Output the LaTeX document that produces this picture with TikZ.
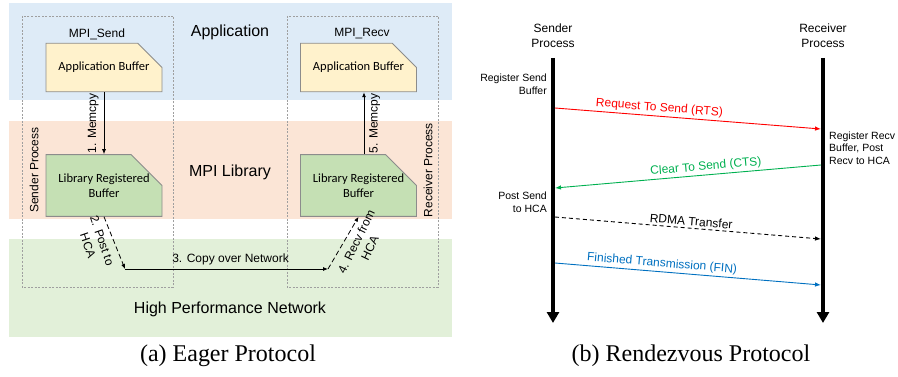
\documentclass[tikz,border=0pt]{standalone}
\usepackage{fontspec}
\setmainfont{Liberation Sans}
\newfontfamily\buffont{Carlito}
\newfontfamily\capfont{Liberation Serif}
\usetikzlibrary{arrows.meta,shapes.misc}
\definecolor{appband}{HTML}{DEEBF7}
\definecolor{libband}{HTML}{FBE5D6}
\definecolor{netband}{HTML}{E2F0D9}
\definecolor{appfill}{HTML}{FFF2CC}
\definecolor{libfill}{HTML}{C5E0B4}
\definecolor{bufline}{HTML}{8C8C8C}
\definecolor{rtscol}{HTML}{FF0000}
\definecolor{ctscol}{HTML}{00B050}
\definecolor{fincol}{HTML}{0070C0}
\tikzset{
  layer/.style={font=\fontsize{16}{19}\selectfont},
  small/.style={font=\fontsize{12}{15}\selectfont},
  procbox/.style={draw=gray!75, dash pattern=on 2pt off 1.5pt, line width=0.6pt},
  buffer/.style={chamfered rectangle, chamfered rectangle corners=north east,
    chamfered rectangle xsep=17pt, chamfered rectangle ysep=19pt,
    draw=bufline, line width=0.8pt, minimum width=116pt, minimum height=42pt,
    inner sep=0pt, align=center, font=\buffont\fontsize{12.5}{15}\selectfont},
  flow/.style={-{Latex[length=5pt,width=4pt]}, line width=0.8pt},
  hcaflow/.style={flow, dash pattern=on 5pt off 3pt},
  lifeline/.style={line width=4pt, -{Triangle[length=11pt,width=12pt]}},
  msg/.style={line width=0.9pt, -{Latex[length=6pt,width=4.5pt]}},
  msglabel/.style={sloped, above, inner sep=2pt, font=\fontsize{12}{14}\selectfont},
  note/.style={font=\fontsize{10.5}{12.5}\selectfont, inner sep=0pt},
  caption/.style={font=\capfont\fontsize{24}{28}\selectfont}
}
\begin{document}
\begin{tikzpicture}[x=1pt,y=-1pt]
\useasboundingbox (0,0) rectangle (898,377);
\fill[appband] (9,3) rectangle (452,100);
\fill[libband] (9,121) rectangle (452,219);
\fill[netband] (9,239) rectangle (452,337);
\draw[procbox] (22,16) rectangle (173,287);
\draw[procbox] (287,16) rectangle (438,287);
\node[layer] (app) at (230,32) {Application};
\node[layer] (lib) at (230,172) {MPI Library};
\node[layer] (net) at (230,309) {High Performance Network};
\node[small] (send) at (97,34) {MPI\_Send};
\node[small] (recv) at (362,34) {MPI\_Recv};
\node[small, rotate=90] (sproc) at (34,170) {Sender Process};
\node[small, rotate=90] (rproc) at (428,170) {Receiver Process};
\node[buffer, fill=appfill] (sapp) at (104,67.5) {Application Buffer};
\node[buffer, fill=appfill] (rapp) at (358.5,67.5) {Application Buffer};
\node[buffer, fill=libfill] (slib) at (104,185.5) {Library Registered\\Buffer};
\node[buffer, fill=libfill] (rlib) at (358.5,185.5) {Library Registered\\Buffer};
\coordinate (nets) at (125,269);
\coordinate (netr) at (328,269);
\draw[flow] (sapp.south) -- node[small, rotate=90, above, inner sep=5pt] {1. Memcpy} (slib.north);
\draw[flow] ([xshift=5.5pt]rlib.north) -- node[small, rotate=90, below, inner sep=5pt] {5. Memcpy} ([xshift=5.5pt]rapp.south);
\draw[hcaflow] (slib.south) -- (nets);
\draw[flow] (nets) -- node[small, above, pos=0.52, inner sep=4pt] {3. Copy over Network} (netr);
\draw[hcaflow] (netr) -- (rlib.south);
\node[small, rotate=-71, align=center] (post) at (95,243) {2. Post to\\HCA};
\node[small, rotate=64, align=center] (fromhca) at (363,245) {4. Recv from\\HCA};
\node[small, align=center] (shead) at (553,36) {Sender\\Process};
\node[small, align=center] (rhead) at (823,36) {Receiver\\Process};
\coordinate (stop) at (553,58);
\coordinate (sbot) at (553,323);
\coordinate (rtop) at (823,58);
\coordinate (rbot) at (823,323);
\draw[lifeline] (stop) -- (sbot);
\draw[lifeline] (rtop) -- (rbot);
\node[note, anchor=east, align=right] (regsend) at (547,84) {Register Send\\Buffer};
\node[note, anchor=west, align=left] (regrecv) at (829,148) {Register Recv\\Buffer, Post\\Recv to HCA};
\node[note, anchor=east, align=right] (postsend) at (547,202) {Post Send\\to HCA};
\coordinate (rtss) at (555,108);
\coordinate (rtsr) at (821,129);
\coordinate (ctsr) at (821,165);
\coordinate (ctss) at (555,188);
\coordinate (rdmas) at (555,217);
\coordinate (rdmar) at (821,239);
\coordinate (fins) at (555,263);
\coordinate (finr) at (821,285);
\draw[msg, rtscol] (rtss) -- node[msglabel, pos=0.39] {Request To Send (RTS)} (rtsr);
\draw[msg, ctscol] (ctsr) -- node[msglabel, pos=0.43] {Clear To Send (CTS)} (ctss);
\draw[msg, dash pattern=on 4pt off 3pt] (rdmas) -- node[msglabel, pos=0.51] {RDMA Transfer} (rdmar);
\draw[msg, fincol] (fins) -- node[msglabel, pos=0.40] {Finished Transmission (FIN)} (finr);
\node[caption] (capa) at (228,356) {(a) Eager Protocol};
\node[caption] (capb) at (691,356) {(b) Rendezvous Protocol};
\end{tikzpicture}
\end{document}
